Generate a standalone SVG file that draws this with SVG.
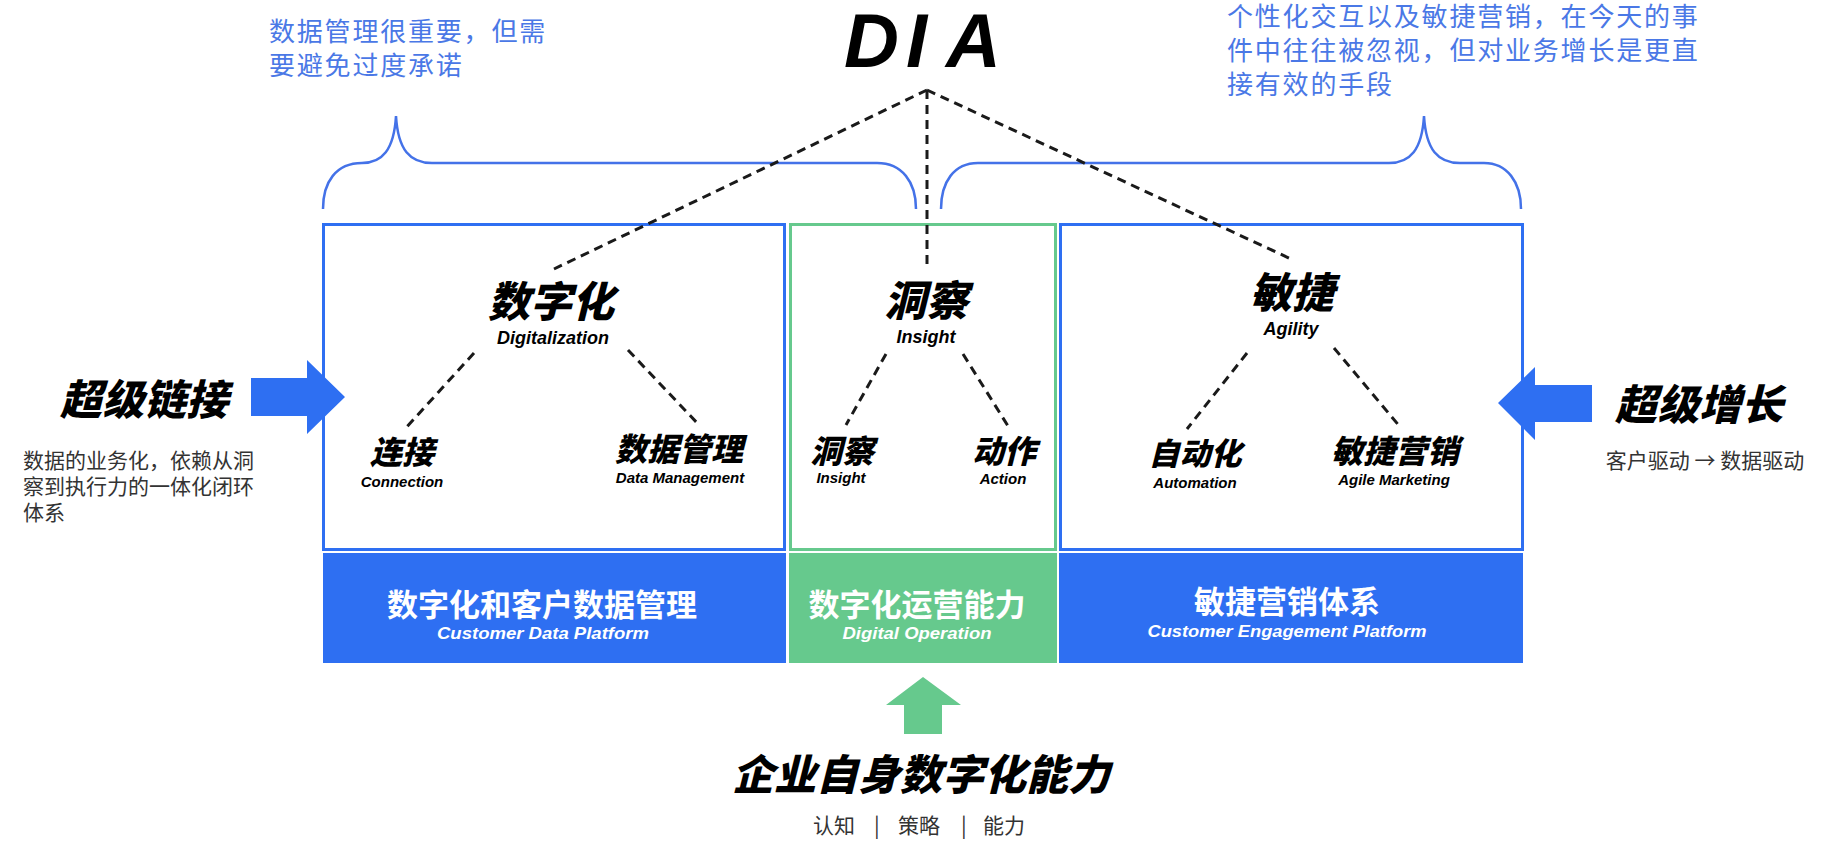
<svg xmlns="http://www.w3.org/2000/svg" width="1836" height="848" viewBox="0 0 1836 848">
<style>
.cjk{font-family:"Noto Sans CJK SC","Noto Sans",sans-serif}
.lat{font-family:"Liberation Sans","Noto Sans",sans-serif}
.note{font-family:"Noto Sans CJK SC",sans-serif;fill:#4A78E6;font-size:26px;letter-spacing:1.8px}
.big{font-family:"Noto Sans CJK SC",sans-serif;font-weight:900;font-style:italic;fill:#000;text-anchor:middle}
.sub{font-family:"Liberation Sans",sans-serif;font-weight:bold;font-style:italic;fill:#000;text-anchor:middle}
.bar{font-family:"Noto Sans CJK SC",sans-serif;font-weight:bold;fill:#fff;text-anchor:middle;font-size:31px}
.barsub{font-family:"Liberation Sans",sans-serif;font-weight:bold;font-style:italic;fill:#fff;text-anchor:middle;font-size:17px}
.desc{font-family:"Noto Sans CJK SC",sans-serif;fill:#333;font-size:21px}
.dash{stroke:#1a1a1a;stroke-width:3;stroke-dasharray:9 6;fill:none}
.brace{stroke:#4472E8;stroke-width:2.5;fill:none}
.boxb{fill:#fff;stroke:#2E6FF2;stroke-width:3}
.boxg{fill:#fff;stroke:#66C98D;stroke-width:3}
</style>

<g id="braces">
<path class="brace" d="M323,209 C323,182 336,163 362,163 C382,163 394,150 396,116 C398,150 410,163 432,163 L877,163 C902,163 916,182 916,209"/>
<path class="brace" d="M941,209 C941,182 954,163 978,163 L1389,163 C1410,163 1422,150 1424,116 C1426,150 1438,163 1460,163 L1484,163 C1507,163 1521,182 1521,209"/>
</g>

<g id="note-left">
<text class="note" y="41"><tspan x="269">数据管理很重要，但需</tspan><tspan x="269" dy="34">要避免过度承诺</tspan></text>
</g>
<g id="note-right">
<text class="note" y="26"><tspan x="1227">个性化交互以及敏捷营销，在今天的事</tspan><tspan x="1227" dy="34">件中往往被忽视，但对业务增长是更直</tspan><tspan x="1227" dy="34">接有效的手段</tspan></text>
</g>

<g id="dia">
<text class="lat" x="844 906 946" y="67" font-size="76" font-weight="bold" font-style="italic" fill="#000">DIA</text>
</g>

<g id="bars">
<rect x="323" y="553" width="463" height="110" fill="#2E6FF2"/>
<rect x="789" y="553" width="268" height="110" fill="#66C98D"/>
<rect x="1059" y="553" width="464" height="110" fill="#2E6FF2"/>
<text class="bar" x="542" y="616">数字化和客户数据管理</text>
<text class="barsub" x="543" y="639" textLength="212" lengthAdjust="spacingAndGlyphs">Customer Data Platform</text>
<text class="bar" x="917" y="616">数字化运营能力</text>
<text class="barsub" x="917" y="639" textLength="149" lengthAdjust="spacingAndGlyphs">Digital Operation</text>
<text class="bar" x="1287" y="613">敏捷营销体系</text>
<text class="barsub" x="1287" y="637" textLength="279" lengthAdjust="spacingAndGlyphs">Customer Engagement Platform</text>
</g>

<g id="box-digital">
<rect class="boxb" x="323.5" y="224.5" width="461" height="325"/>
<text class="big" x="551" y="317" font-size="42">数字化</text>
<text class="sub" x="553" y="344" font-size="18">Digitalization</text>
<text class="big" x="402" y="464" font-size="32">连接</text>
<text class="sub" x="402" y="487" font-size="15">Connection</text>
<text class="big" x="679" y="461" font-size="32">数据管理</text>
<text class="sub" x="680" y="483" font-size="15">Data Management</text>
</g>

<g id="box-insight">
<rect class="boxg" x="790.5" y="224.5" width="265" height="325"/>
<text class="big" x="926" y="316" font-size="42">洞察</text>
<text class="sub" x="926" y="343" font-size="18">Insight</text>
<text class="big" x="842" y="463" font-size="32">洞察</text>
<text class="sub" x="841" y="483" font-size="15">Insight</text>
<text class="big" x="1004" y="463" font-size="32">动作</text>
<text class="sub" x="1003" y="484" font-size="15">Action</text>
</g>

<g id="box-agility">
<rect class="boxb" x="1060.5" y="224.5" width="462" height="325"/>
<text class="big" x="1292" y="308" font-size="42">敏捷</text>
<text class="sub" x="1291" y="335" font-size="18">Agility</text>
<text class="big" x="1195" y="465" font-size="31">自动化</text>
<text class="sub" x="1195" y="488" font-size="15">Automation</text>
<text class="big" x="1395" y="463" font-size="32">敏捷营销</text>
<text class="sub" x="1394" y="485" font-size="15">Agile Marketing</text>
</g>

<g id="connectors">
<line class="dash" x1="927" y1="90" x2="554" y2="269"/>
<line class="dash" x1="927" y1="90" x2="927" y2="268"/>
<line class="dash" x1="927" y1="90" x2="1291" y2="259"/>
<line class="dash" x1="474" y1="353" x2="404" y2="430"/>
<line class="dash" x1="628" y1="350" x2="700" y2="426"/>
<line class="dash" x1="886" y1="354" x2="846" y2="425"/>
<line class="dash" x1="963" y1="354" x2="1008" y2="426"/>
<line class="dash" x1="1247" y1="353" x2="1187" y2="429"/>
<line class="dash" x1="1334" y1="348" x2="1401" y2="428"/>
</g>

<g id="super-link">
<path d="M251,378 L307,378 L307,360 L345,397 L307,434 L307,416 L251,416 Z" fill="#2E6FF2"/>
<text class="big" x="144" y="415" font-size="42">超级链接</text>
<text class="desc" y="468"><tspan x="23">数据的业务化，依赖从洞</tspan><tspan x="23" dy="26">察到执行力的一体化闭环</tspan><tspan x="23" dy="26">体系</tspan></text>
</g>

<g id="super-growth">
<path d="M1592,385 L1535,385 L1535,367 L1498,403 L1535,440 L1535,422 L1592,422 Z" fill="#2E6FF2"/>
<text class="big" x="1699" y="420" font-size="42">超级增长</text>
<text class="desc" x="1705" y="468" text-anchor="middle" font-size="22">客户驱动 → 数据驱动</text>
</g>

<g id="enterprise">
<path d="M904,734 L904,705 L886,705 L923,677 L961,705 L942,705 L942,734 Z" fill="#66C98D"/>
<text class="big" x="921" y="790" font-size="42">企业自身数字化能力</text>
<text class="desc" y="833" font-size="22"><tspan x="813">认知</tspan><tspan x="874">|</tspan><tspan x="898">策略</tspan><tspan x="961">|</tspan><tspan x="983">能力</tspan></text>
</g>
</svg>
